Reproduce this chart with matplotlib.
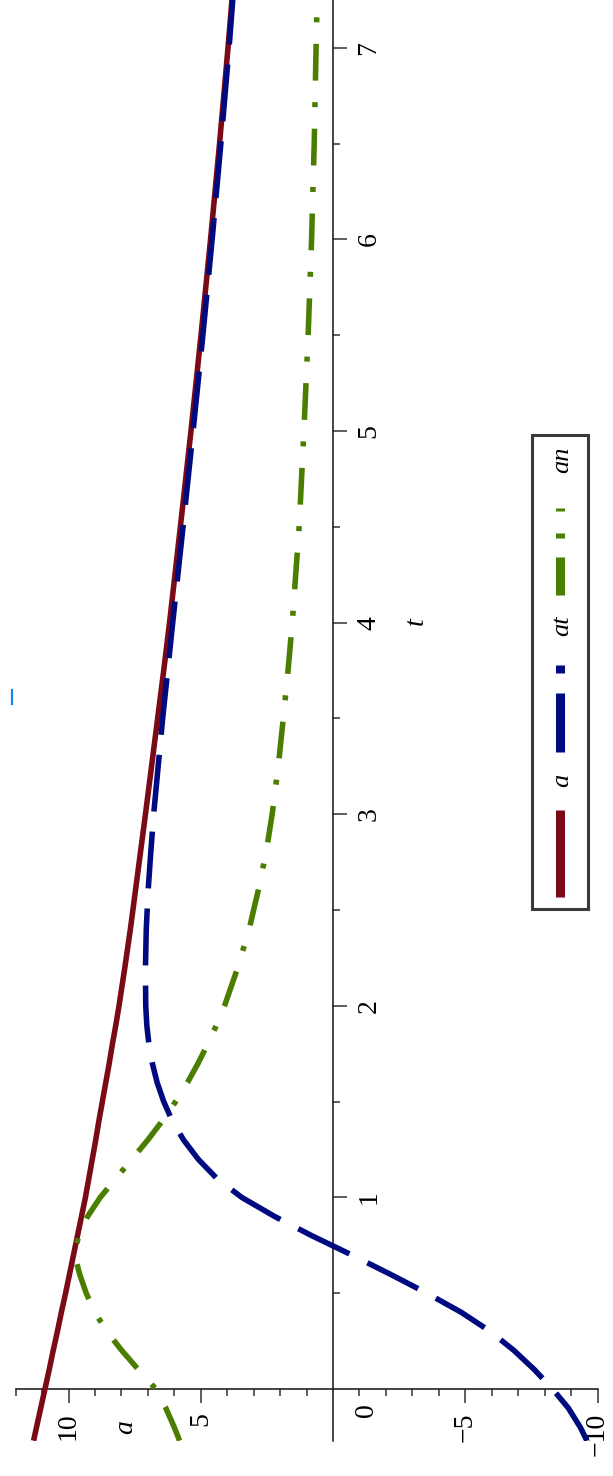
import matplotlib
matplotlib.use("Agg")
import matplotlib.pyplot as plt
from matplotlib.lines import Line2D
from matplotlib.patches import Rectangle

plt.rcParams['font.family'] = ['Liberation Serif', 'DejaVu Serif']
plt.rcParams['lines.scale_dashes'] = False

# ---------------- data ----------------
t_vals = [-0.27, -0.2, -0.1, 0.0, 0.1, 0.2, 0.3, 0.4, 0.5, 0.6, 0.7, 0.8, 0.9,
          1.0, 1.1, 1.2, 1.3, 1.4, 1.5, 1.6, 1.7, 1.8, 1.9, 2.0, 2.2, 2.4, 2.6,
          2.8, 3.0, 3.25, 3.5, 3.75, 4.0, 4.5, 5.0, 5.5, 6.0, 6.5, 7.0, 7.25]
a_vals = [11.32, 11.21, 11.05, 10.89, 10.73, 10.58, 10.42, 10.27, 10.11, 9.96, 9.81,
          9.66, 9.51, 9.36, 9.23, 9.10, 8.97, 8.85, 8.72, 8.59, 8.46, 8.34, 8.21,
          8.09, 7.87, 7.66, 7.47, 7.28, 7.09, 6.86, 6.63, 6.40, 6.18, 5.77, 5.37,
          4.99, 4.63, 4.29, 3.97, 3.82]
at_vals = [-9.6, -9.35, -8.9, -8.3, -7.62, -6.85, -5.95, -4.85, -3.55, -2.15, -0.7,
           0.8, 2.2, 3.45, 4.4, 5.1, 5.65, 6.08, 6.4, 6.65, 6.83, 6.96, 7.04, 7.08,
           7.09, 7.06, 6.99, 6.89, 6.78, 6.61, 6.44, 6.25, 6.06, 5.67, 5.29, 4.92,
           4.57, 4.24, 3.93, 3.79]
an_vals = [5.8, 6.0, 6.32, 6.7, 7.35, 7.98, 8.55, 9.0, 9.33, 9.58, 9.77, 9.62, 9.28,
           8.8, 8.2, 7.6, 7.0, 6.45, 5.95, 5.5, 5.1, 4.74, 4.4, 4.1, 3.6, 3.17, 2.83,
           2.53, 2.3, 2.07, 1.88, 1.7, 1.54, 1.28, 1.1, 0.94, 0.81, 0.71, 0.64, 0.6]

a_major = [-10, -5, 5, 10]
a_minor = [-9, -8, -7, -6, -4, -3, -2, -1, 1, 2, 3, 4, 6, 7, 8, 9, 11, 12]
t_major = [1, 2, 3, 4, 5, 6, 7]
t_minor = [0.5, 1.5, 2.5, 3.5, 4.5, 5.5, 6.5]
series_names = ['a', 'at', 'an']

RED = '#7a0a16'
BLUE = '#000a80'
GREEN = '#4b7e00'

W, H = 613, 1476
fig = plt.figure(figsize=(W / 100, H / 100), dpi=100)


def fx(x):
    return x / W


def fy(y):
    return 1 - y / H


# axes: horizontal = a (reversed), vertical = t  (rotated Maple plot)
left_px, right_px, top_px, bot_px = 15.6, 597.5, 0.0, 1440.7
ax = fig.add_axes([fx(left_px), fy(bot_px), (right_px - left_px) / W, (bot_px - top_px) / H])
ax.set_xlim(12, -10)
ax.set_ylim(-0.27, 7.25)

lw = 4.0
ax.plot(a_vals, t_vals, color=RED, lw=lw, solid_capstyle='butt', solid_joinstyle='round', zorder=3)
ax.plot(at_vals, t_vals, color=BLUE, lw=lw, dashes=(41, 14.5), dash_capstyle='butt', zorder=4)
ax.plot(an_vals, t_vals, color=GREEN, lw=lw, dashes=(26.5, 15.5, 3.6, 15.5),
        dash_capstyle='butt', zorder=4)

# axes crossing at the origin
for s in ['left', 'top']:
    ax.spines[s].set_visible(False)
ax.spines['right'].set_position(('data', 0))
ax.spines['bottom'].set_position(('data', 0))
for s in ['right', 'bottom']:
    ax.spines[s].set_linewidth(1.1)
    ax.spines[s].set_color('#111111')
ax.yaxis.set_ticks_position('right')
ax.xaxis.set_ticks_position('bottom')

ax.set_xticks(a_major)
ax.set_xticks(a_minor, minor=True)
ax.set_yticks(t_major)
ax.set_yticks(t_minor, minor=True)
ax.set_xticklabels([str(v).replace('-', '\u2212') for v in a_major])
ax.set_yticklabels([str(v) for v in t_major])

ax.tick_params(which='major', direction='out', length=10, width=1.1, color='#333333',
               labelsize=20, pad=7)
ax.tick_params(which='minor', direction='out', length=5, width=1.1, color='#333333')
for lab in ax.get_xticklabels():
    lab.set_rotation(90)
    lab.set_va('top')
    lab.set_ha('center')
for lab in ax.get_yticklabels():
    lab.set_rotation(90)
    lab.set_va('center')
    lab.set_ha('left')

# origin label and axis labels
ax.text(-1.25, -0.11, '0', rotation=90, ha='center', va='center', fontsize=20, clip_on=False)
ax.text(7.83, -0.2, 'a', rotation=90, ha='center', va='center', fontsize=20,
        style='italic', clip_on=False)
ax.text(-3.14, 4.01, 't', rotation=90, ha='center', va='center', fontsize=20,
        style='italic', clip_on=False)

# small stray mark
fig.add_artist(Line2D([fx(12), fx(12)], [fy(690), fy(704)], color='#1e88e5', lw=1.6))

# ---------------- legend (rotated, drawn by hand) ----------------
fig.add_artist(Rectangle((fx(532), fy(909)), (588 - 532) / W, (909 - 435) / H,
                         transform=fig.transFigure, facecolor='white',
                         edgecolor='#3a3a3a', lw=2.2, zorder=5))
lx = fx(560)
leg_lw = 6.5
fig.add_artist(Line2D([lx, lx], [fy(897), fy(810)], color=RED, lw=leg_lw,
                      solid_capstyle='butt', zorder=6))
fig.add_artist(Line2D([lx, lx], [fy(752), fy(693)], color=BLUE, lw=leg_lw,
                      solid_capstyle='butt', zorder=6))
fig.add_artist(Line2D([lx, lx], [fy(673), fy(665)], color=BLUE, lw=leg_lw,
                      solid_capstyle='butt', zorder=6))
fig.add_artist(Line2D([lx, lx], [fy(595), fy(557)], color=GREEN, lw=leg_lw,
                      solid_capstyle='butt', zorder=6))
fig.add_artist(Line2D([lx, lx], [fy(538), fy(533)], color=GREEN, lw=leg_lw,
                      solid_capstyle='butt', zorder=6))
fig.add_artist(Line2D([lx, lx], [fy(511), fy(508)], color=GREEN, lw=leg_lw,
                      solid_capstyle='butt', zorder=6))
for name, yc in zip(series_names, [780, 626, 460]):
    fig.text(fx(562), fy(yc), name, rotation=90, ha='center', va='center',
             fontsize=19, style='italic', zorder=7)

fig.savefig('out.png', dpi=100, facecolor='white')
